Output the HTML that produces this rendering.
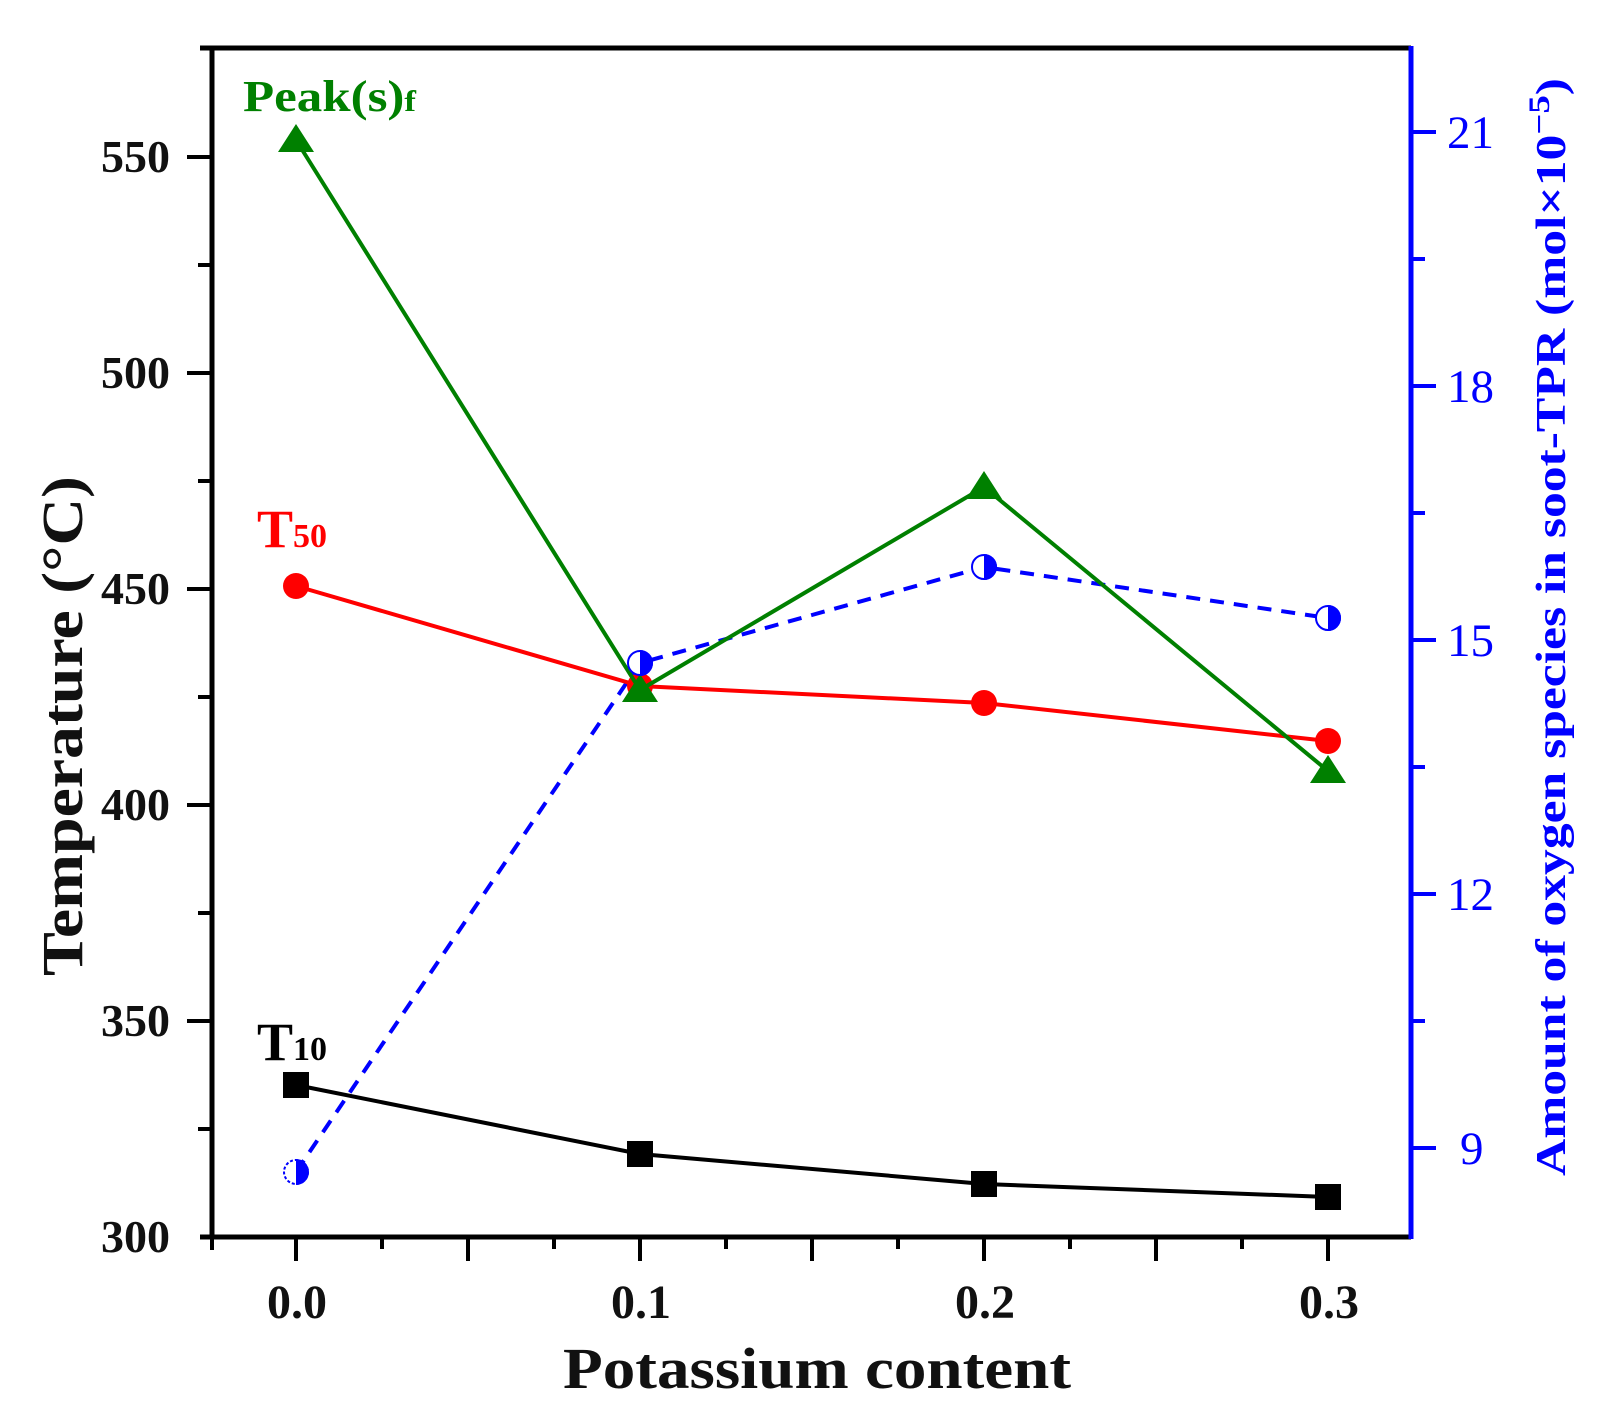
<!DOCTYPE html>
<html><head><meta charset="utf-8"><style>body{margin:0;background:#fff}svg{display:block}</style></head>
<body>
<svg width="1602" height="1419" viewBox="0 0 1602 1419" xmlns="http://www.w3.org/2000/svg" font-family="Liberation Serif, serif">
<rect width="1602" height="1419" fill="#fff"/>
<line x1="200" y1="48" x2="1411" y2="48" stroke="#000" stroke-width="5"/>
<line x1="212" y1="46" x2="212" y2="1239" stroke="#000" stroke-width="5"/>
<line x1="200" y1="1237" x2="1411" y2="1237" stroke="#000" stroke-width="5"/>
<line x1="1411" y1="46" x2="1411" y2="1239" stroke="#0000ff" stroke-width="5"/>
<g stroke="#000" stroke-width="4">
<line x1="187" y1="157" x2="212" y2="157"/><line x1="187" y1="373" x2="212" y2="373"/><line x1="187" y1="589" x2="212" y2="589"/><line x1="187" y1="805" x2="212" y2="805"/><line x1="187" y1="1021" x2="212" y2="1021"/>
<line x1="198" y1="265" x2="212" y2="265"/><line x1="198" y1="481" x2="212" y2="481"/><line x1="198" y1="697" x2="212" y2="697"/><line x1="198" y1="913" x2="212" y2="913"/><line x1="198" y1="1129" x2="212" y2="1129"/>
<line x1="296" y1="1237" x2="296" y2="1261"/><line x1="640" y1="1237" x2="640" y2="1261"/><line x1="984" y1="1237" x2="984" y2="1261"/><line x1="1328" y1="1237" x2="1328" y2="1261"/>
<line x1="212" y1="1237" x2="212" y2="1250"/><line x1="468" y1="1237" x2="468" y2="1261"/><line x1="812" y1="1237" x2="812" y2="1261"/><line x1="1156" y1="1237" x2="1156" y2="1261"/>
<line x1="382" y1="1237" x2="382" y2="1249"/><line x1="554" y1="1237" x2="554" y2="1249"/><line x1="726" y1="1237" x2="726" y2="1249"/><line x1="898" y1="1237" x2="898" y2="1249"/><line x1="1070" y1="1237" x2="1070" y2="1249"/><line x1="1242" y1="1237" x2="1242" y2="1249"/>
</g>
<g stroke="#0000ff" stroke-width="4">
<line x1="1411" y1="132" x2="1436" y2="132"/><line x1="1411" y1="386" x2="1436" y2="386"/><line x1="1411" y1="640" x2="1436" y2="640"/><line x1="1411" y1="894" x2="1436" y2="894"/><line x1="1411" y1="1148" x2="1436" y2="1148"/>
<line x1="1411" y1="259" x2="1425" y2="259"/><line x1="1411" y1="513" x2="1425" y2="513"/><line x1="1411" y1="767" x2="1425" y2="767"/><line x1="1411" y1="1021" x2="1425" y2="1021"/>
</g>
<g font-size="46" font-weight="bold" text-anchor="end" fill="#111">
<text x="170" y="172">550</text><text x="170" y="388">500</text><text x="170" y="604">450</text><text x="170" y="820">400</text><text x="170" y="1036">350</text><text x="170" y="1252">300</text>
</g>
<g font-size="48" font-weight="bold" text-anchor="middle" fill="#111">
<text x="297" y="1318">0.0</text><text x="641" y="1318">0.1</text><text x="985" y="1318">0.2</text><text x="1329" y="1318">0.3</text>
</g>
<g font-size="47" fill="#0000ff">
<text x="1447" y="148">21</text><text x="1447" y="402">18</text><text x="1447" y="656">15</text><text x="1447" y="910">12</text><text x="1460" y="1164">9</text>
</g>
<text x="563" y="1388" font-size="58" font-weight="bold" fill="#111" textLength="508" lengthAdjust="spacingAndGlyphs">Potassium content</text>
<text transform="translate(82,976) rotate(-90)" font-size="58" font-weight="bold" fill="#111" textLength="500" lengthAdjust="spacingAndGlyphs">Temperature (°C)</text>
<text transform="translate(1565,1176) rotate(-90)" font-size="42" font-weight="bold" fill="#0000ff" textLength="1098" lengthAdjust="spacingAndGlyphs">Amount of  oxygen species in soot-TPR (mol×10<tspan dy="-16" font-size="30">−5</tspan><tspan dy="16">)</tspan></text>
<text x="243" y="111" font-size="44" font-weight="bold" fill="#008000" textLength="173" lengthAdjust="spacingAndGlyphs">Peak(s)<tspan font-size="30">f</tspan></text>
<text x="257" y="547" font-size="54" font-weight="bold" fill="#ff0000">T<tspan font-size="34">50</tspan></text>
<text x="257" y="1060" font-size="54" font-weight="bold" fill="#000">T<tspan font-size="34">10</tspan></text>
<polyline points="296,1172 640,663 984,567 1328,618" fill="none" stroke="#0000ff" stroke-width="4" stroke-dasharray="14,10"/>
<polyline points="296,1085 640,1154 984,1184 1328,1197" fill="none" stroke="#000" stroke-width="4"/>
<g fill="#000"><rect x="283" y="1072" width="26" height="26"/><rect x="627" y="1141" width="26" height="26"/><rect x="971" y="1171" width="26" height="26"/><rect x="1315" y="1184" width="26" height="26"/></g>
<polyline points="296,586 640,686 984,703 1328,741" fill="none" stroke="#ff0000" stroke-width="4"/>
<g fill="#ff0000"><circle cx="296" cy="586" r="13"/><circle cx="640" cy="686" r="13"/><circle cx="984" cy="703" r="13"/><circle cx="1328" cy="741" r="13"/></g>
<polyline points="296,140 640,690 984,487 1328,771" fill="none" stroke="#008000" stroke-width="4"/>
<g fill="#008000">
<polygon points="296,124 278,152 314,152"/><polygon points="640,674 622,702 658,702"/><polygon points="984,471 966,499 1002,499"/><polygon points="1328,755 1310,783 1346,783"/>
</g>
<g>
<g transform="translate(296,1172)"><circle r="12" fill="#fff" stroke="#0000ff" stroke-width="2" stroke-dasharray="3,2"/><path d="M0,-13 A13,13 0 0 1 0,13 Z" fill="#0000ff"/></g>
<g transform="translate(640,663)"><circle r="12" fill="#fff" stroke="#0000ff" stroke-width="2"/><path d="M0,-13 A13,13 0 0 1 0,13 Z" fill="#0000ff"/></g>
<g transform="translate(984,567)"><circle r="12" fill="#fff" stroke="#0000ff" stroke-width="2"/><path d="M0,-13 A13,13 0 0 1 0,13 Z" fill="#0000ff"/></g>
<g transform="translate(1328,618)"><circle r="12" fill="#fff" stroke="#0000ff" stroke-width="2"/><path d="M0,-13 A13,13 0 0 1 0,13 Z" fill="#0000ff"/></g>
</g>
</svg>
</body></html>
